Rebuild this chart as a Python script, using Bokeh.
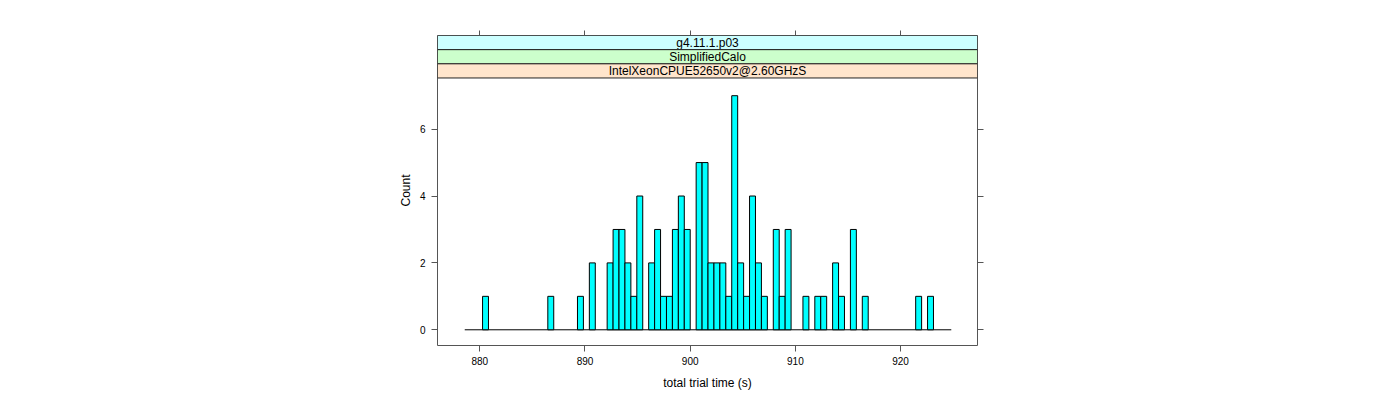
import numpy as np
from bokeh.plotting import figure
from bokeh.models import LinearAxis, FixedTicker, CustomJSTickFormatter, Range1d, ColumnDataSource
from bokeh.core.properties import value
from bokeh.embed import file_html
from bokeh.resources import INLINE

# ---- data ----
strip_labels = ["g4.11.1.p03", "SimplifiedCalo", "IntelXeonCPUE52650v2@2.60GHzS"]
strip_colors = ["#ccffff", "#ccffcc", "#ffe5cc"]
bin_start = 878.57
bin_width = 0.564
counts = [0, 0, 0, 1, 0, 0, 0, 0, 0, 0,
          0, 0, 0, 0, 1, 0, 0, 0, 0, 1,
          0, 2, 0, 0, 2, 3, 3, 2, 1, 4,
          0, 2, 3, 1, 1, 3, 4, 3, 0, 5,
          5, 2, 2, 2, 1, 7, 2, 1, 4, 2,
          1, 0, 3, 1, 3, 0, 0, 1, 0, 1,
          1, 0, 2, 1, 0, 3, 0, 1, 0, 0,
          0, 0, 0, 0, 0, 0, 1, 0, 1, 0,
          0, 0]
x_ticks = [880, 890, 900, 910, 920]
y_ticks = [0, 2, 4, 6]
x_label = "total trial time (s)"
y_label = "Count"

# ---- layout ----
X0, X1 = 875.98, 927.31
Y0, Y1 = -0.47, 8.80
PANEL_TOP = 7.53
FONT = "Liberation Sans"
AX = "#555555"

counts = np.array(counts)
edges = bin_start + bin_width * np.arange(len(counts) + 1)
mask = counts > 0
src = ColumnDataSource(dict(left=edges[:-1][mask], right=edges[1:][mask],
                            top=counts[mask], bottom=np.zeros(mask.sum())))

p = figure(width=1384, height=392, output_backend="svg", toolbar_location=None,
           x_range=Range1d(X0, X1), y_range=Range1d(Y0, Y1),
           x_axis_location=None, y_axis_location=None,
           min_border_left=437, min_border_right=407, min_border_top=35, min_border_bottom=45)
p.xgrid.visible = False
p.ygrid.visible = False
p.outline_line_color = AX
p.outline_line_width = 1
p.background_fill_color = "white"
p.border_fill_color = "white"

p.segment(x0=[edges[0]], y0=[0], x1=[edges[-1]], y1=[0], line_color="black", line_width=1)
p.quad(left="left", right="right", top="top", bottom="bottom", source=src,
       fill_color="#00FFFF", line_color="black", line_width=1)

# strips
sh = (Y1 - PANEL_TOP) / 3.0
for i, (lab, col) in enumerate(zip(strip_labels, strip_colors)):
    top = Y1 - i * sh
    bot = top - sh
    p.quad(left=[X0], right=[X1], top=[top], bottom=[bot], fill_color=col,
           line_color="#222222", line_width=1)
    p.text(x=[(X0 + X1) / 2], y=[(top + bot) / 2], text=[lab], text_align="center",
           text_baseline="middle", text_font=value(FONT), text_font_size="12px",
           text_color="black")

def style(ax, ticks, labels=True):
    ax.ticker = FixedTicker(ticks=ticks)
    ax.axis_line_color = None
    ax.major_tick_line_color = AX
    ax.major_tick_in = 0
    ax.major_tick_out = 6
    ax.minor_tick_line_color = None
    ax.major_label_text_font = FONT
    ax.major_label_text_font_size = "10px"
    ax.major_label_text_color = "black"
    ax.axis_label_text_font = FONT
    ax.axis_label_text_font_size = "12px"
    ax.axis_label_text_font_style = "normal"
    ax.axis_label_text_color = "black"
    if not labels:
        ax.formatter = CustomJSTickFormatter(code="return ''")

bx = LinearAxis(axis_label=x_label)
style(bx, x_ticks)
bx.major_label_standoff = 5
bx.axis_label_standoff = 8
p.add_layout(bx, "below")

ly = LinearAxis(axis_label=y_label)
style(ly, y_ticks)
ly.major_label_standoff = 6
ly.major_label_orientation = 0
ly.axis_label_standoff = 4
p.add_layout(ly, "left")

tx = LinearAxis()
style(tx, x_ticks, labels=False)
tx.major_tick_out = 5
p.add_layout(tx, "above")

ry = LinearAxis()
style(ry, y_ticks, labels=False)
p.add_layout(ry, "right")

open("out.html", "w").write(file_html(p, INLINE))
